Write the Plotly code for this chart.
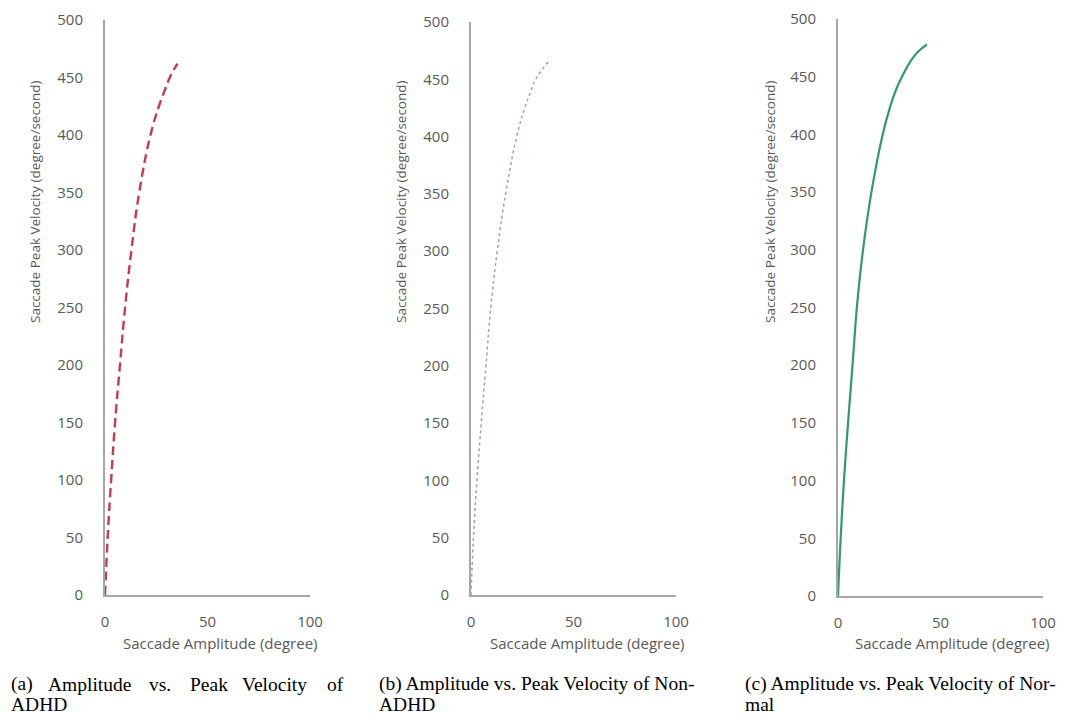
import plotly.graph_objects as go

# ---- data ----
adhd_amp = [0, 1.3, 3.0, 4.9, 7.3, 9.8, 12.9, 16.7, 22.2, 26.3, 29.4, 31.6, 33.6, 35.4]
adhd_vel = [0, 50, 100, 150, 200, 250, 300, 350, 400, 425, 440, 450, 457, 462]

nonadhd_amp = [0, 1.2, 2.9, 5.0, 7.3, 9.6, 12.8, 16.9, 22.3, 26.2, 29.3, 31.5, 34.5, 37.7]
nonadhd_vel = [0, 50, 100, 150, 200, 250, 300, 350, 400, 425, 440, 450, 458, 465]

normal_amp = [0, 1.3, 2.9, 4.9, 7.3, 9.2, 12.2, 16.3, 21.8, 25.6, 28.6, 31.2, 36.0, 39.3, 43.4]
normal_vel = [0, 50, 100, 150, 205, 250, 300, 350, 400, 425, 440, 450, 465, 472, 478]

x_ticks = [0, 50, 100]
y_ticks = [0, 50, 100, 150, 200, 250, 300, 350, 400, 450, 500]

x_title = "Saccade Amplitude (degree)"
y_title = "Saccade Peak Velocity (degree/second)"

# the page body has an 8px margin, so the figure starts at (8, 8) in the window
OFF = 8
W, H = 1080 - OFF, 715 - OFF

def px(x):
    return (x - OFF) / W

def py(y):
    return (H - (y - OFF)) / H

panels = [
    dict(amp=adhd_amp, vel=adhd_vel, color="#C63B50", dash="9px,5px", width=2.4,
         xd=(105, 310), yd=(595, 20), ytx=35, xtx=220),
    dict(amp=nonadhd_amp, vel=nonadhd_vel, color="#8AA6CC", dash="dot", width=1.5,
         xd=(471, 676), yd=(595, 22), ytx=401, xtx=587),
    dict(amp=normal_amp, vel=normal_vel, color="#2E9B68", dash="solid", width=2.2,
         xd=(838, 1043), yd=(596, 19), ytx=770, xtx=952),
]

fig = go.Figure()
tickfont = dict(family="Open Sans", size=15, color="#595959")
annotations = []

for i, p in enumerate(panels, start=1):
    xa = "x" if i == 1 else f"x{i}"
    ya = "y" if i == 1 else f"y{i}"
    fig.add_trace(go.Scatter(
        x=p["amp"], y=p["vel"], mode="lines", xaxis=xa, yaxis=ya,
        line=dict(color=p["color"], width=p["width"], dash=p["dash"], shape="spline", smoothing=1.3),
        showlegend=False, hoverinfo="skip"))
    xkey = "xaxis" if i == 1 else f"xaxis{i}"
    ykey = "yaxis" if i == 1 else f"yaxis{i}"
    fig.update_layout(**{
        xkey: dict(domain=[px(p["xd"][0]), px(p["xd"][1])], range=[0, 100],
                   anchor=ya, tickvals=x_ticks, ticks="", showgrid=False, zeroline=False,
                   showline=True, linecolor="#A6A6A6", linewidth=2, automargin=False,
                   tickfont=tickfont, ticklabelstandoff=12),
        ykey: dict(domain=[py(p["yd"][0]), py(p["yd"][1])], range=[0, 500],
                   anchor=xa, tickvals=y_ticks, ticks="", showgrid=False, zeroline=False,
                   showline=True, linecolor="#A6A6A6", linewidth=2, automargin=False,
                   tickfont=tickfont, ticklabelstandoff=17),
    })
    annotations.append(dict(x=px(p["ytx"]), y=py(202), xref="paper", yref="paper",
                            text=y_title, textangle=-90, showarrow=False,
                            font=dict(family="Open Sans", size=13.5, color="#595959"),
                            xanchor="center", yanchor="middle"))
    annotations.append(dict(x=px(p["xtx"]), y=py(643), xref="paper", yref="paper",
                            text=x_title, showarrow=False,
                            font=dict(family="Open Sans", size=15, color="#595959"),
                            xanchor="center", yanchor="middle"))

capfont = dict(family="Liberation Serif, Times New Roman, serif", size=19.5, color="#000000")
L1, L2 = 684, 704

# caption (a) - justified first line, words positioned individually
cap_a_words = ["(a)", "Amplitude", "vs.", "Peak", "Velocity", "of"]
cap_a_x = [9, 46, 147, 188, 240, 325]
for w, xx in zip(cap_a_words, cap_a_x):
    annotations.append(dict(x=px(xx), y=py(L1), xref="paper", yref="paper", text=w,
                            showarrow=False, font=capfont, xanchor="left", yanchor="middle"))
annotations.append(dict(x=px(9), y=py(L2), xref="paper", yref="paper", text="ADHD",
                        showarrow=False, font=capfont, xanchor="left", yanchor="middle"))

annotations.append(dict(x=px(377), y=py(L1), xref="paper", yref="paper",
                        text="(b) Amplitude vs. Peak Velocity of Non-",
                        showarrow=False, font=capfont, xanchor="left", yanchor="middle"))
annotations.append(dict(x=px(377), y=py(L2), xref="paper", yref="paper", text="ADHD",
                        showarrow=False, font=capfont, xanchor="left", yanchor="middle"))

annotations.append(dict(x=px(743), y=py(L1), xref="paper", yref="paper",
                        text="(c) Amplitude vs. Peak Velocity of Nor-",
                        showarrow=False, font=capfont, xanchor="left", yanchor="middle"))
annotations.append(dict(x=px(743), y=py(L2), xref="paper", yref="paper", text="mal",
                        showarrow=False, font=capfont, xanchor="left", yanchor="middle"))

fig.update_layout(width=W, height=H, margin=dict(l=0, r=0, t=0, b=0, pad=0),
                  paper_bgcolor="white", plot_bgcolor="white",
                  annotations=annotations)

fig.write_html("out.html")
